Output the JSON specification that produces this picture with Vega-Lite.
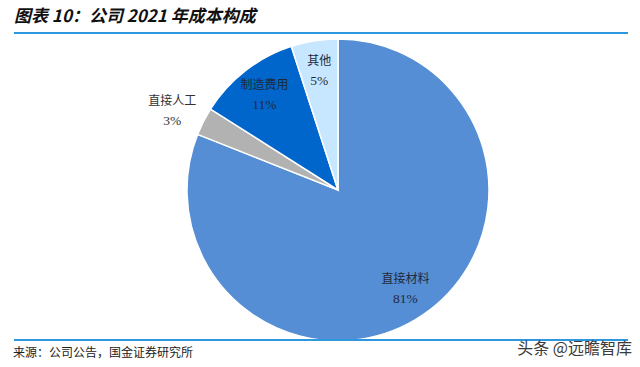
{
  "$schema": "https://vega.github.io/schema/vega-lite/v6.json",
  "width": 640,
  "height": 367,
  "autosize": {"type": "none"},
  "padding": 0,
  "background": "white",
  "config": {"view": {"stroke": null}},
  "data": {"values": [
    {"name": "直接材料", "pct": "81%", "value": 81, "idx": 1, "pos": "in"},
    {"name": "直接人工", "pct": "3%", "value": 3, "idx": 2, "pos": "out"},
    {"name": "制造费用", "pct": "11%", "value": 11, "idx": 3, "pos": "in"},
    {"name": "其他", "pct": "5%", "value": 5, "idx": 4, "pos": "in"}
  ]},
  "encoding": {
    "theta": {"field": "value", "type": "quantitative", "stack": true},
    "order": {"field": "idx", "type": "quantitative"},
    "color": {"field": "name", "type": "nominal", "legend": null,
      "scale": {"domain": ["直接材料", "直接人工", "制造费用", "其他"],
                "range": ["#558ED5", "#B2B2B2", "#0066CC", "#C6E7FF"]}}
  },
  "layer": [
    {
      "mark": {"type": "arc", "outerRadius": 151, "stroke": "white", "strokeWidth": 1.5},
      "encoding": {"x": {"value": 338}, "y": {"value": 190}}
    },
    {
      "mark": {"type": "text", "radius": 120, "dy": -10, "font": "Noto Sans CJK SC", "fontSize": 12, "letterSpacing": 2},
      "encoding": {"x": {"value": 338}, "y": {"value": 190}, "text": {"condition": {"test": "datum.pos == 'in'", "field": "name"}, "value": ""}, "color": {"value": "#1f2a3a"}}
    },
    {
      "mark": {"type": "text", "radius": 120, "dy": 10, "font": "Liberation Serif", "fontSize": 13.5},
      "encoding": {"x": {"value": 338}, "y": {"value": 190}, "text": {"condition": {"test": "datum.pos == 'in'", "field": "pct"}, "value": ""}, "color": {"value": "#1f2a3a"}}
    },
    {
      "mark": {"type": "text", "radius": 186, "dy": -5, "font": "Noto Sans CJK SC", "fontSize": 12, "letterSpacing": 2},
      "encoding": {"x": {"value": 338}, "y": {"value": 190}, "text": {"condition": {"test": "datum.pos == 'out'", "field": "name"}, "value": ""}, "color": {"value": "#333333"}}
    },
    {
      "mark": {"type": "text", "radius": 186, "dy": 15, "font": "Liberation Serif", "fontSize": 13.5},
      "encoding": {"x": {"value": 338}, "y": {"value": 190}, "text": {"condition": {"test": "datum.pos == 'out'", "field": "pct"}, "value": ""}, "color": {"value": "#333333"}}
    },
    {
      "data": {"values": [{"t": "图表 10：公司 2021 年成本构成"}]},
      "mark": {"type": "text", "align": "left", "baseline": "middle", "font": "Noto Sans CJK SC", "fontSize": 17, "fontWeight": "bold", "fontStyle": "italic"},
      "encoding": {"theta": null, "order": null, "color": {"value": "#111111"}, "x": {"value": 14}, "y": {"value": 17}, "text": {"field": "t"}}
    },
    {
      "data": {"values": [{"k": "top"}]},
      "mark": {"type": "rule", "strokeWidth": 2},
      "encoding": {"theta": null, "order": null, "color": {"value": "#2E97E0"}, "x": {"value": 14}, "x2": {"value": 628}, "y": {"value": 33}}
    },
    {
      "data": {"values": [{"k": "bottom"}]},
      "mark": {"type": "rule", "strokeWidth": 2},
      "encoding": {"theta": null, "order": null, "color": {"value": "#2E97E0"}, "x": {"value": 14}, "x2": {"value": 628}, "y": {"value": 340}}
    },
    {
      "data": {"values": [{"t": "来源：公司公告，国金证券研究所"}]},
      "mark": {"type": "text", "align": "left", "baseline": "middle", "font": "Noto Sans CJK SC", "fontSize": 12},
      "encoding": {"theta": null, "order": null, "color": {"value": "#222222"}, "x": {"value": 13}, "y": {"value": 353}, "text": {"field": "t"}}
    },
    {
      "data": {"values": [{"t": "头条 @远瞻智库"}]},
      "mark": {"type": "text", "align": "right", "baseline": "middle", "font": "Noto Sans CJK SC", "fontSize": 16},
      "encoding": {"theta": null, "order": null, "color": {"value": "#3a3a3a"}, "x": {"value": 632}, "y": {"value": 349}, "text": {"field": "t"}}
    }
  ]
}
